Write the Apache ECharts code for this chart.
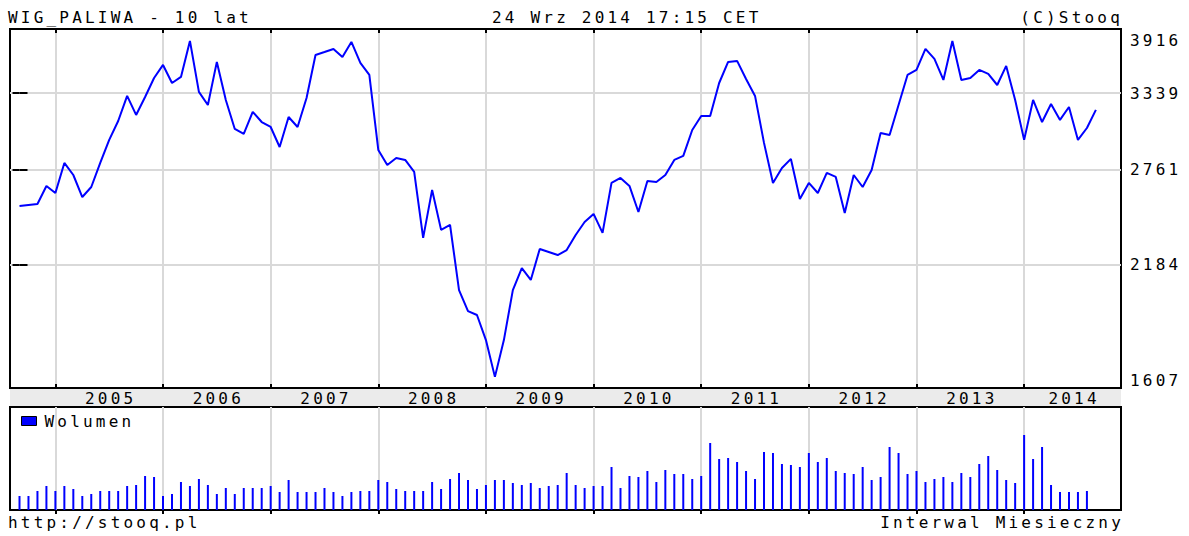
<!DOCTYPE html>
<html>
<head>
<meta charset="utf-8">
<title>WIG_PALIWA - 10 lat</title>
<script src="https://cdn.jsdelivr.net/npm/echarts@6/dist/echarts.min.js"></script>
<style>
  html, body { margin: 0; padding: 0; background: #fff; }
  #chart { width: 1189px; height: 536px; }
  /* czcionka stooq jest szeroka - rozsuwamy litery */
  #chart text { letter-spacing: 3.2px; }
</style>
</head>
<body>
<div id="chart"></div>
<script>
// notowania miesięczne, pierwszy punkt: 2004-09
const startYear = 2004;
const startMonth = 9;

// zamknięcia miesięczne WIG_PALIWA (2004-09 .. 2014-09)
const price = [
  2524, 2531, 2537, 2653, 2607, 2809, 2726, 2581, 2646, 2809,
  2974, 3117, 3317, 3164, 3308, 3468, 3582, 3425, 3477, 3802,
  3350, 3243, 3609, 3284, 3056, 3018, 3188, 3109, 3071, 2922,
  3148, 3071, 3300, 3672, 3699, 3727, 3654, 3792, 3600, 3494,
  2901, 2795, 2844, 2830, 2747, 2332, 2627, 2379, 2408, 2049,
  1945, 1926, 1810, 1652, 1810, 2049, 2164, 2101, 2269, 2252,
  2235, 2263, 2349, 2426, 2475, 2361, 2673, 2706, 2653, 2487,
  2686, 2679, 2726, 2830, 2858, 3048, 3156, 3156, 3425, 3609,
  3618, 3459, 3317, 2952, 2673, 2774, 2837, 2569, 2673, 2607,
  2740, 2713, 2481, 2726, 2646, 2760, 3026, 3011, 3243, 3494,
  3538, 3727, 3636, 3451, 3802, 3451, 3468, 3538, 3503, 3408,
  3573, 3284, 2974, 3284, 3109, 3251, 3125, 3227, 2974, 3063, 3204
];

// wolumen miesięczny (2004-09 .. 2014-08)
const volume = [
  14, 14, 19, 24, 19, 24, 21, 14, 16, 19,
  19, 19, 24, 25, 34, 33, 14, 16, 28, 24,
  31, 25, 16, 22, 16, 22, 22, 22, 24, 18,
  30, 18, 18, 18, 22, 18, 14, 18, 19, 19,
  30, 28, 21, 19, 19, 19, 28, 21, 31, 37,
  30, 21, 25, 30, 30, 27, 25, 27, 22, 24,
  25, 37, 25, 22, 24, 24, 43, 22, 34, 33,
  39, 28, 40, 36, 36, 31, 34, 67, 51, 52,
  48, 39, 31, 58, 57, 46, 45, 43, 57, 48,
  52, 39, 37, 36, 43, 30, 33, 63, 57, 36,
  39, 28, 31, 33, 28, 37, 33, 46, 54, 40,
  30, 27, 75, 51, 63, 25, 18, 18, 18, 19
];

const yearLabels = ['2005', '2006', '2007', '2008', '2009', '2010', '2011', '2012', '2013', '2014'];
const priceTicks = [1607, 2184, 2761, 3339, 3916];

// zakres osi czasu w numerach miesięcy (0 = pierwszy punkt)
const xMin = -1.06;
const xMax = 122.8;

const yearStarts = yearLabels.map(y => (Number(y) - startYear) * 12 - (startMonth - 1));
const labelPos = yearStarts.map((s, n) => (s + (n < yearStarts.length - 1 ? yearStarts[n + 1] : xMax)) / 2);

const FONT = 'DejaVu Sans Mono';
const FONT_CSS = '16px "DejaVu Sans Mono"';
const txt = { fontFamily: FONT, fontSize: 16, color: '#000' };
const tickLine = { color: '#000', width: 2 };
const gridLine = { color: '#d9d9d9', width: 2 };

const chart = echarts.init(document.getElementById('chart'), null, { renderer: 'svg' });

const option = {
  animation: false,
  backgroundColor: '#fff',
  textStyle: { fontFamily: FONT },
  grid: [
    { left: 10, top: 29, width: 1111, height: 359, show: true, borderColor: '#000', borderWidth: 2 },
    { left: 10, top: 407, width: 1111, height: 103, show: true, borderColor: '#000', borderWidth: 2 }
  ],
  legend: {
    data: ['Wolumen'],
    left: 21,
    top: 413,
    padding: 0,
    icon: 'rect',
    itemWidth: 15,
    itemHeight: 9,
    selectedMode: false,
    itemStyle: { borderColor: '#000', borderWidth: 1 },
    textStyle: { ...txt, padding: [0, 0, 0, 3] }
  },
  graphic: [
    {
      type: 'rect', z: -1,
      shape: { x: 10, y: 388, width: 1111, height: 19 },
      style: { fill: '#ebebeb' }
    },
    {
      type: 'text', x: 8, y: 17,
      style: { text: 'WIG_PALIWA - 10 lat', font: FONT_CSS, fill: '#000', align: 'left', verticalAlign: 'middle' }
    },
    {
      type: 'text', x: 492, y: 17,
      style: { text: '24 Wrz 2014 17:15 CET', font: FONT_CSS, fill: '#000', align: 'left', verticalAlign: 'middle' }
    },
    {
      type: 'text', x: 1123, y: 17,
      style: { text: '(C)Stooq', font: FONT_CSS, fill: '#000', align: 'right', verticalAlign: 'middle' }
    },
    {
      type: 'text', x: 8, y: 522,
      style: { text: 'http://stooq.pl', font: FONT_CSS, fill: '#000', align: 'left', verticalAlign: 'middle' }
    },
    {
      type: 'text', x: 1124, y: 522,
      style: { text: 'Interwal Miesieczny', font: FONT_CSS, fill: '#000', align: 'right', verticalAlign: 'middle' }
    }
  ],
  xAxis: [
    {
      type: 'value', gridIndex: 0, position: 'bottom', min: xMin, max: xMax,
      axisLine: { show: false },
      axisTick: { inside: true, length: 4, lineStyle: tickLine, customValues: yearStarts },
      axisLabel: {
        ...txt,
        margin: 2,
        padding: [0, 0, 0, 3],
        customValues: labelPos,
        formatter: v => {
          const n = labelPos.findIndex(p => Math.abs(p - v) < 1e-6);
          return n >= 0 ? yearLabels[n] : '';
        }
      },
      splitLine: { show: true, lineStyle: gridLine }
    },
    {
      type: 'value', gridIndex: 0, position: 'top', min: xMin, max: xMax,
      axisLine: { show: false },
      axisTick: { inside: true, length: 4, lineStyle: tickLine, customValues: yearStarts },
      axisLabel: { show: false },
      splitLine: { show: false }
    },
    {
      type: 'value', gridIndex: 1, position: 'top', min: xMin, max: xMax,
      axisLine: { show: false },
      axisTick: { inside: true, length: 4, lineStyle: tickLine, customValues: yearStarts },
      axisLabel: { show: false },
      splitLine: { show: true, lineStyle: gridLine }
    }
  ],
  yAxis: [
    {
      type: 'log', gridIndex: 0, position: 'right', min: 1607, max: 3916,
      axisLine: { show: false },
      axisTick: { inside: true, length: 7, lineStyle: tickLine, customValues: priceTicks },
      axisLabel: {
        ...txt,
        margin: 9,
        padding: [3, 0, 0, 0],
        customValues: priceTicks,
        formatter: v => String(Math.round(v)),
        verticalAlignMinLabel: 'bottom',
        verticalAlignMaxLabel: 'top'
      },
      splitLine: { show: true, showMinLine: false, showMaxLine: false, lineStyle: gridLine }
    },
    {
      type: 'log', gridIndex: 0, position: 'left', min: 1607, max: 3916,
      axisLine: { show: false },
      axisTick: { inside: true, length: 8, lineStyle: tickLine, customValues: priceTicks },
      axisLabel: { show: false },
      splitLine: { show: false }
    },
    {
      type: 'value', gridIndex: 1, min: 0, max: 103, show: false
    }
  ],
  series: [
    {
      name: 'WIG_PALIWA',
      type: 'line',
      xAxisIndex: 0,
      yAxisIndex: 0,
      data: price.map((v, i) => [i, v]),
      symbol: 'none',
      silent: true,
      lineStyle: { color: '#0000ff', width: 2 },
      itemStyle: { color: '#0000ff' }
    },
    {
      name: 'Wolumen',
      type: 'bar',
      xAxisIndex: 2,
      yAxisIndex: 2,
      data: volume.map((v, i) => [i, v]),
      barWidth: 2,
      silent: true,
      itemStyle: { color: '#0000ff' }
    }
  ]
};

chart.setOption(option);
</script>
</body>
</html>
